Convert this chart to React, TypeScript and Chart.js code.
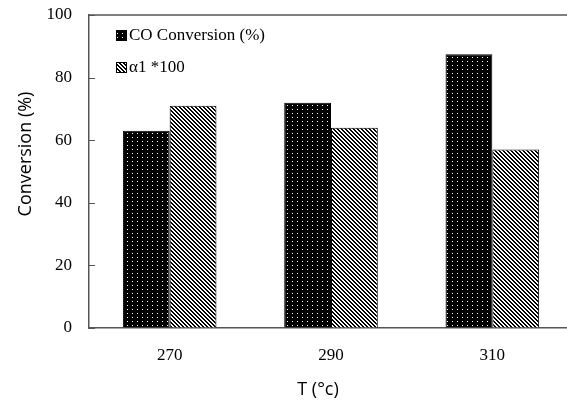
import React, { useEffect, useRef } from "react";
import { Chart, registerables } from "chart.js";

Chart.register(...registerables);

const categories = ["270", "290", "310"];
const coConversion = [63, 72, 87.5];
const alpha1x100 = [71, 64, 57];
const seriesLabels = ["CO Conversion (%)", "α1 *100"];
const yMin = 0;
const yMax = 100;
const yStep = 20;
const xTitle = "T (°c)";
const yTitle = "Conversion (%)";

const SERIF = '"Liberation Serif", "Times New Roman", serif';
const SANS = '"Open Sans", "Noto Sans", sans-serif';
const AXIS_COLOR = "#555555";

function dotPattern(ctx: CanvasRenderingContext2D) {
  const c = document.createElement("canvas");
  c.width = 5;
  c.height = 4;
  const g = c.getContext("2d")!;
  g.fillStyle = "#000";
  g.fillRect(0, 0, 5, 4);
  g.fillStyle = "#ffffff";
  g.fillRect(2, 1, 1, 1);
  return ctx.createPattern(c, "repeat")!;
}

function stripePattern(ctx: CanvasRenderingContext2D) {
  const c = document.createElement("canvas");
  c.width = 4;
  c.height = 4;
  const g = c.getContext("2d")!;
  g.fillStyle = "#fff";
  g.fillRect(0, 0, 4, 4);
  g.fillStyle = "#000";
  for (let y = 0; y < 4; y++) {
    for (let x = 0; x < 4; x++) {
      if ((((x - y) % 4) + 4) % 4 < 2) g.fillRect(x, y, 1, 1);
    }
  }
  return ctx.createPattern(c, "repeat")!;
}

const decorPlugin = {
  id: "decor",
  afterDraw(chart: any) {
    const { ctx, chartArea } = chart;
    const yScale = chart.scales.y;
    ctx.save();
    // top border
    ctx.strokeStyle = AXIS_COLOR;
    ctx.lineWidth = 1.5;
    ctx.beginPath();
    ctx.moveTo(chartArea.left, chartArea.top);
    ctx.lineTo(chartArea.right, chartArea.top);
    ctx.stroke();
    // inward y ticks
    ctx.lineWidth = 1;
    yScale.ticks.forEach((t: any) => {
      const y = Math.round(yScale.getPixelForValue(t.value)) + 0.5;
      ctx.beginPath();
      ctx.moveTo(chartArea.left, y);
      ctx.lineTo(chartArea.left + 6, y);
      ctx.stroke();
    });
    // legend
    const ds = chart.data.datasets;
    const rows = [35, 67];
    ctx.font = `17px ${SERIF}`;
    ctx.textBaseline = "middle";
    ctx.textAlign = "left";
    ds.forEach((d: any, i: number) => {
      const cy = rows[i];
      ctx.fillStyle = d.backgroundColor;
      ctx.fillRect(116, cy - 5, 10, 10);
      ctx.strokeStyle = "#000";
      ctx.lineWidth = 1;
      ctx.strokeRect(116.5, cy - 4.5, 10, 10);
      ctx.fillStyle = "#000";
      ctx.fillText(d.label, 129, cy + 1);
    });
    // axis titles
    ctx.font = `18px ${SANS}`;
    ctx.fillStyle = "#000";
    ctx.textAlign = "center";
    ctx.fillText(xTitle, 318, 390);
    ctx.save();
    ctx.translate(26, 154);
    ctx.rotate(-Math.PI / 2);
    ctx.fillText(yTitle, 0, 0);
    ctx.restore();
    ctx.restore();
  },
};

export default function App() {
  const ref = useRef<HTMLCanvasElement>(null);
  useEffect(() => {
    const canvas = ref.current!;
    const ctx = canvas.getContext("2d")!;
    const chart = new Chart(canvas, {
      type: "bar",
      data: {
        labels: categories,
        datasets: [
          {
            label: seriesLabels[0],
            data: coConversion,
            backgroundColor: dotPattern(ctx) as any,
            borderColor: "#000",
            borderWidth: 1,
            categoryPercentage: 0.58,
            barPercentage: 1,
          },
          {
            label: seriesLabels[1],
            data: alpha1x100,
            backgroundColor: stripePattern(ctx) as any,
            borderColor: "#000",
            borderWidth: 1,
            categoryPercentage: 0.58,
            barPercentage: 1,
          },
        ],
      },
      options: {
        responsive: false,
        animation: false,
        devicePixelRatio: 1,
        layout: { padding: { top: 15, left: 0, right: 0, bottom: 0 } },
        plugins: {
          legend: { display: false },
          tooltip: { enabled: false },
        },
        scales: {
          x: {
            grid: { display: false, drawTicks: false },
            border: { display: true, color: AXIS_COLOR, width: 1.5 },
            ticks: {
              font: { family: SERIF, size: 17 },
              color: "#000",
              padding: 17,
            },
            afterFit: (s: any) => {
              s.height = 74;
              s.paddingLeft = 0;
              s.paddingRight = 0;
            },
          },
          y: {
            min: yMin,
            max: yMax,
            grid: { drawOnChartArea: false, drawTicks: false },
            border: { display: true, color: AXIS_COLOR, width: 1.5 },
            ticks: {
              stepSize: yStep,
              font: { family: SERIF, size: 17 },
              color: "#000",
              padding: 17,
            },
            afterFit: (s: any) => {
              s.width = 89;
              s.paddingTop = 0;
              s.paddingBottom = 0;
            },
          },
        },
      },
      plugins: [decorPlugin],
    });
    return () => chart.destroy();
  }, []);
  return (
    <div
      style={{
        position: "fixed",
        left: 0,
        top: 0,
        width: 567,
        height: 402,
        overflow: "hidden",
        background: "#fff",
      }}
    >
      <canvas ref={ref} width={573} height={402} style={{ display: "block" }} />
    </div>
  );
}
